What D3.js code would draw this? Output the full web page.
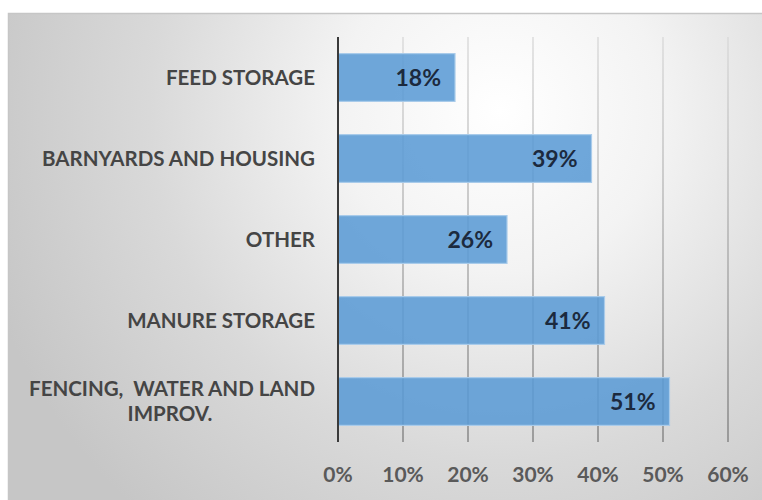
<!DOCTYPE html>
<html>
<head>
<meta charset="utf-8">
<script src="https://cdn.jsdelivr.net/npm/d3@7"></script>
<style>
  html, body { margin: 0; padding: 0; background: #ffffff; }
  svg { display: block; }
</style>
</head>
<body>
<script>
const categories = ["FEED STORAGE", "BARNYARDS AND HOUSING", "OTHER", "MANURE STORAGE", "FENCING,  WATER AND LAND|IMPROV."];
const values = [18, 39, 26, 41, 51];
const ticks = [0, 10, 20, 30, 40, 50, 60];

const W = 762, H = 500;
const svg = d3.select("body").append("svg").attr("width", W).attr("height", H);
const defs = svg.append("defs");

const bg = defs.append("radialGradient").attr("id", "bg")
  .attr("gradientUnits", "userSpaceOnUse")
  .attr("cx", 500).attr("cy", 110).attr("r", 540);
bg.append("stop").attr("offset", 0).attr("stop-color", "#ffffff");
bg.append("stop").attr("offset", 0.3).attr("stop-color", "#f3f3f3");
bg.append("stop").attr("offset", 0.65).attr("stop-color", "#d9d9d9");
bg.append("stop").attr("offset", 1).attr("stop-color", "#c6c6c6");

const gg = defs.append("linearGradient").attr("id", "grid")
  .attr("gradientUnits", "userSpaceOnUse")
  .attr("x1", 0).attr("y1", 37).attr("x2", 0).attr("y2", 442);
gg.append("stop").attr("offset", 0).attr("stop-color", "#d8d8d8");
gg.append("stop").attr("offset", 1).attr("stop-color", "#7a7a7a");

svg.append("rect").attr("x", 8.5).attr("y", 13.5).attr("width", W).attr("height", H)
  .attr("fill", "url(#bg)").attr("stroke", "#c6c6c6").attr("stroke-width", 1.5);

const x = d3.scaleLinear().domain([0, 60]).range([338, 728]);
const y = d3.scaleBand().domain(categories).range([37, 442]).paddingInner(0.41).paddingOuter(0.205);

// gridlines
svg.append("g").selectAll("line").data(ticks.slice(1)).join("line")
  .attr("x1", d => x(d)).attr("x2", d => x(d))
  .attr("y1", 37).attr("y2", 442)
  .attr("stroke", "url(#grid)").attr("stroke-width", 1.3);

// bars
svg.append("g").selectAll("rect").data(values).join("rect")
  .attr("x", x(0))
  .attr("y", (d, i) => y(categories[i]))
  .attr("width", d => x(d) - x(0))
  .attr("height", y.bandwidth())
  .attr("fill", "#5b9bd5").attr("fill-opacity", 0.88)
  .attr("stroke", "#a9cbea").attr("stroke-width", 1.2);

// axis line
svg.append("line").attr("x1", x(0)).attr("x2", x(0)).attr("y1", 37).attr("y2", 442)
  .attr("stroke", "#3a3a3a").attr("stroke-width", 2);

// value labels
svg.append("g").selectAll("text").data(values).join("text")
  .attr("x", d => x(d) - 14)
  .attr("y", (d, i) => y(categories[i]) + y.bandwidth() / 2)
  .attr("dy", "0.36em")
  .attr("text-anchor", "end")
  .attr("font-family", "Lato, 'Open Sans', sans-serif")
  .attr("font-weight", "bold")
  .attr("font-size", 23)
  .attr("fill", "#1c2a3e")
  .text(d => d + "%");

// category labels
const labG = svg.append("g")
  .attr("font-family", "Lato, 'Open Sans', sans-serif")
  .attr("font-weight", "bold")
  .attr("font-size", 20.5)
  .attr("fill", "#454545");
categories.forEach(c => {
  const lines = c.split("|");
  const cy = y(c) + y.bandwidth() / 2;
  const lh = 25;
  const y0 = cy - (lines.length - 1) * lh / 2;
  if (lines.length === 1) {
    labG.append("text").attr("x", 315).attr("y", cy).attr("dy", "0.36em")
      .attr("text-anchor", "end").text(c);
  } else {
    const t1 = labG.append("text").attr("x", 315).attr("y", y0).attr("dy", "0.36em")
      .attr("text-anchor", "end").attr("xml:space", "preserve").style("white-space", "pre").text(lines[0]);
    const w = t1.node().getComputedTextLength();
    lines.slice(1).forEach((l, k) => {
      labG.append("text").attr("x", 315 - w / 2 - 2).attr("y", y0 + (k + 1) * lh).attr("dy", "0.36em")
        .attr("text-anchor", "middle").text(l);
    });
  }
});

// tick labels
svg.append("g").selectAll("text").data(ticks).join("text")
  .attr("x", d => x(d))
  .attr("y", 474)
  .attr("dy", "0.36em")
  .attr("text-anchor", "middle")
  .attr("font-family", "Lato, 'Open Sans', sans-serif")
  .attr("font-weight", "bold")
  .attr("font-size", 21)
  .attr("fill", "#5a5a5a")
  .text(d => d + "%");
</script>
</body>
</html>
